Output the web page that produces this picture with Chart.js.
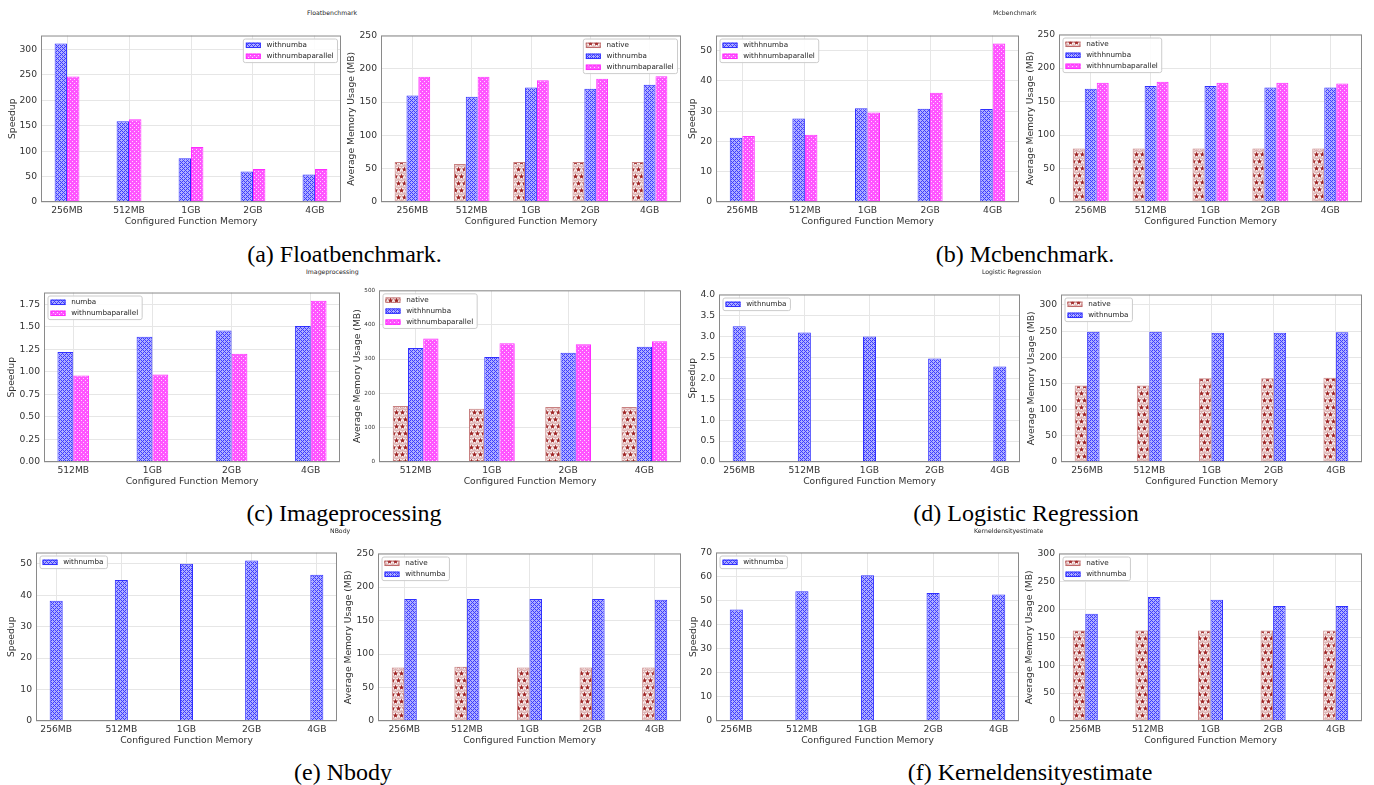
<!DOCTYPE html>
<html>
<head>
<meta charset="utf-8">
<script src="https://cdn.jsdelivr.net/npm/chart.js@4.4.1/dist/chart.umd.min.js"></script>
<style>
  html, body { margin: 0; padding: 0; background: #fff; }
  #fig { position: relative; width: 1374px; height: 785px; overflow: hidden; background: #fff; }
  .panel { position: absolute; }
  .panel canvas { display: block; }
  .suptitle { position: absolute; font-family: 'DejaVu Sans'; font-size: 6.2px; color: #222; white-space: nowrap; transform: translateY(-50%); line-height: 1; opacity: 0.99; }
  .caption { position: absolute; font-family: 'Liberation Serif'; font-size: 24px; color: #000; white-space: nowrap; transform: translate(-50%, -50%); line-height: 1; }
</style>
</head>
<body>
<div id="fig"></div>
<script>
// ---- categories ----
const memTiers = ['256MB', '512MB', '1GB', '2GB', '4GB'];
const imgTiers = ['512MB', '1GB', '2GB', '4GB'];

// ---- Floatbenchmark ----
const floatSpeedNumba    = [312, 159, 86, 60, 54];
const floatSpeedParallel = [247, 163, 108, 65, 65];
const floatMemNative     = [60, 57, 60, 60, 60];
const floatMemNumba      = [160, 158, 172, 170, 176];
const floatMemParallel   = [188, 188, 183, 185, 189];

// ---- Mcbenchmark ----
const mcSpeedNumba    = [21.2, 27.6, 31.0, 30.8, 30.7];
const mcSpeedParallel = [21.8, 22.2, 29.6, 36.1, 52.4];
const mcMemNative     = [80, 80, 80, 80, 80];
const mcMemNumba      = [169, 173, 173, 171, 171];
const mcMemParallel   = [178, 179.5, 178, 178, 177];

// ---- Imageprocessing ----
const imgSpeedNumba    = [1.22, 1.39, 1.46, 1.51];
const imgSpeedParallel = [0.96, 0.97, 1.20, 1.79];
const imgMemNative     = [163, 155, 160, 160];
const imgMemNumba      = [332, 306, 318, 336];
const imgMemParallel   = [360, 346, 343, 352];

// ---- Logistic Regression ----
const lrSpeedNumba = [3.24, 3.09, 3.00, 2.47, 2.28];
const lrMemNative  = [146, 146, 160, 160, 161];
const lrMemNumba   = [249, 249, 247, 247, 248];

// ---- NBody ----
const nbodySpeedNumba = [38.2, 44.8, 50.0, 51.0, 46.5];
const nbodyMemNative  = [80, 81, 80, 80, 80];
const nbodyMemNumba   = [182, 182, 182, 182, 181];

// ---- Kerneldensityestimate ----
const kdeSpeedNumba = [46.3, 53.9, 60.6, 53.2, 52.6];
const kdeMemNative  = [162, 162, 162, 162, 162];
const kdeMemNumba   = [192, 222, 217, 206, 206];

// ---- y tick values ----
const ticks0to300 = [0, 50, 100, 150, 200, 250, 300];
const ticks0to250 = [0, 50, 100, 150, 200, 250];
const ticks0to50  = [0, 10, 20, 30, 40, 50];
const ticks0to175 = [0, 0.25, 0.5, 0.75, 1, 1.25, 1.5, 1.75];
const ticks0to500 = [0, 100, 200, 300, 400, 500];
const ticks0to4   = [0, 0.5, 1, 1.5, 2, 2.5, 3, 3.5, 4];
const ticks0to70  = [0, 10, 20, 30, 40, 50, 60, 70];

// ---- hatch fills ----
function tile(w, h, draw) {
  const c = document.createElement('canvas');
  c.width = w; c.height = h;
  const g = c.getContext('2d');
  draw(g, w, h);
  return g.createPattern(c, 'repeat');
}
function star(g, cx, cy, r) {
  g.beginPath();
  for (let k = 0; k < 10; k++) {
    const rr = k % 2 === 0 ? r : r * 0.45;
    const a = -Math.PI / 2 + k * Math.PI / 5;
    const px = cx + rr * Math.cos(a), py = cy + rr * Math.sin(a);
    if (k === 0) g.moveTo(px, py); else g.lineTo(px, py);
  }
  g.closePath();
  g.fill();
}
// blue cross-hatch for the numba runs
const crossHatch = tile(4, 4, (g) => {
  g.fillStyle = '#aeaeff'; g.fillRect(0, 0, 4, 4);
  g.fillStyle = '#3c3cff';
  for (let y = 0; y < 4; y++) for (let x = 0; x < 4; x++) {
    if ((x + y) % 4 === 0 || (x - y + 4) % 4 === 0) g.fillRect(x, y, 1, 1);
  }
});
// magenta dotted fill for the parallel runs
const dotHatch = tile(4, 4, (g) => {
  g.fillStyle = '#ff55ff'; g.fillRect(0, 0, 4, 4);
  g.fillStyle = '#ffd6ff';
  g.fillRect(1, 1, 1, 1);
  g.fillRect(3, 3, 1, 1);
});
// star fill for the native runs
const starHatch = tile(6, 14, (g) => {
  g.fillStyle = '#dcb0b0'; g.fillRect(0, 0, 6, 14);
  const spots = [[1.5, 3.5], [4.5, 10.5], [-1.5, 10.5], [7.5, 3.5], [1.5, 17.5], [4.5, -3.5]];
  g.fillStyle = '#fbf3f3';
  spots.forEach(([x, y]) => { g.beginPath(); g.arc(x, y, 3.1, 0, Math.PI * 2); g.fill(); });
  g.fillStyle = '#9f2626';
  spots.forEach(([x, y]) => star(g, x, y, 2.9));
});
const seriesStyle = {
  native:   { fill: starHatch,  edge: 'rgba(170,60,60,0.65)' },
  numba:    { fill: crossHatch, edge: '#3030ff' },
  parallel: { fill: dotHatch,   edge: '#ff2bff' }
};

// ---- plugins: axes frame and boxed legend ----
const axesFrame = {
  id: 'axesFrame',
  afterDatasetsDraw(chart) {
    const { ctx, chartArea: a } = chart;
    ctx.save();
    ctx.strokeStyle = '#8a8a8a';
    ctx.lineWidth = 1;
    ctx.strokeRect(a.left + 0.5, a.top + 0.5, a.right - a.left - 1, a.bottom - a.top - 1);
    ctx.restore();
  }
};
const boxLegend = {
  id: 'boxLegend',
  afterDraw(chart, args, opts) {
    const { ctx, chartArea: a } = chart;
    const ds = chart.data.datasets;
    ctx.save();
    ctx.font = '7.2px "DejaVu Sans"';
    const textW = Math.max(...ds.map(d => ctx.measureText(d.label).width));
    const rowH = 11;
    const w = 3 + 15 + 5.7 + textW + 3.4;
    const h = 1.6 + ds.length * rowH;
    const x = opts.side === 'right' ? a.right - 4 - w : a.left + 3.5;
    const y = a.top + 3;
    ctx.beginPath();
    ctx.roundRect(x + 0.5, y + 0.5, w, h, 2);
    ctx.fillStyle = 'rgba(255,255,255,0.85)';
    ctx.fill();
    ctx.strokeStyle = '#cccccc';
    ctx.lineWidth = 1;
    ctx.stroke();
    ds.forEach((d, i) => {
      const cy = y + 0.8 + rowH * i + rowH / 2 + 0.5;
      ctx.fillStyle = d.backgroundColor;
      ctx.fillRect(x + 3, cy - 2.7, 15, 5.4);
      ctx.strokeStyle = d.borderColor;
      ctx.strokeRect(x + 3.5, cy - 2.2, 14, 4.4);
      ctx.fillStyle = '#222';
      ctx.textBaseline = 'middle';
      ctx.textAlign = 'left';
      ctx.fillText(d.label, x + 23.7, cy);
    });
    ctx.restore();
  }
};

// ---- panel definitions (plot rectangle in page pixels: left, top, right, bottom) ----
const SPEED = 'Speedup';
const MEM = 'Average Memory Usage (MB)';
const panels = [
  { rect: [41, 32, 341, 202], cats: memTiers, ymax: 327.6, yticks: ticks0to300, ydec: 0, ytitle: SPEED, gap: 28.6, side: 'right',
    series: [['withnumba', floatSpeedNumba, 'numba'], ['withnumbaparallel', floatSpeedParallel, 'parallel']] },
  { rect: [381, 32, 681, 202], cats: memTiers, ymax: 250, yticks: ticks0to250, ydec: 0, ytitle: MEM, gap: 29, side: 'right',
    series: [['native', floatMemNative, 'native'], ['withnumba', floatMemNumba, 'numba'], ['withnumbaparallel', floatMemParallel, 'parallel']] },
  { rect: [716, 32, 1019, 202], cats: memTiers, ymax: 55.0, yticks: ticks0to50, ydec: 0, ytitle: SPEED, gap: 23.4, side: 'left',
    series: [['withhnumba', mcSpeedNumba, 'numba'], ['withhnumbaparallel', mcSpeedParallel, 'parallel']] },
  { rect: [1059, 31, 1362, 202], cats: memTiers, ymax: 250, yticks: ticks0to250, ydec: 0, ytitle: MEM, gap: 28.3, side: 'left',
    series: [['native', mcMemNative, 'native'], ['withhnumba', mcMemNumba, 'numba'], ['withhnumbaparallel', mcMemParallel, 'parallel']] },

  { rect: [44, 289, 340, 462], cats: imgTiers, ymax: 1.88, yticks: ticks0to175, ydec: 2, ytitle: SPEED, gap: 32, side: 'left',
    series: [['numba', imgSpeedNumba, 'numba'], ['withnumbaparallel', imgSpeedParallel, 'parallel']] },
  { rect: [379, 289, 681, 462], cats: imgTiers, ymax: 500, yticks: ticks0to500, ydec: 0, ytitle: MEM, gap: 21.7, side: 'left', yFont: 5.6,
    series: [['native', imgMemNative, 'native'], ['withhnumba', imgMemNumba, 'numba'], ['withnumbaparallel', imgMemParallel, 'parallel']] },
  { rect: [719, 291, 1020, 462], cats: memTiers, ymax: 4, yticks: ticks0to4, ydec: 1, ytitle: SPEED, gap: 26, side: 'left',
    series: [['withnumba', lrSpeedNumba, 'numba']] },
  { rect: [1061, 291, 1362, 462], cats: memTiers, ymax: 320, yticks: ticks0to300, ydec: 0, ytitle: MEM, gap: 29.7, side: 'left',
    series: [['native', lrMemNative, 'native'], ['withnumba', lrMemNumba, 'numba']] },

  { rect: [36, 549, 337, 721], cats: memTiers, ymax: 53.55, yticks: ticks0to50, ydec: 0, ytitle: SPEED, gap: 24.4, side: 'left',
    series: [['withnumba', nbodySpeedNumba, 'numba']] },
  { rect: [378, 550, 681, 721], cats: memTiers, ymax: 250, yticks: ticks0to250, ydec: 0, ytitle: MEM, gap: 29.4, side: 'left',
    series: [['native', nbodyMemNative, 'native'], ['withnumba', nbodyMemNumba, 'numba']] },
  { rect: [716, 549, 1019, 721], cats: memTiers, ymax: 70, yticks: ticks0to70, ydec: 0, ytitle: SPEED, gap: 22.7, side: 'left',
    series: [['withnumba', kdeSpeedNumba, 'numba']] },
  { rect: [1059, 550, 1362, 721], cats: memTiers, ymax: 300, yticks: ticks0to300, ydec: 0, ytitle: MEM, gap: 29.3, side: 'left',
    series: [['native', kdeMemNative, 'native'], ['withnumba', kdeMemNumba, 'numba']] }
];

const suptitles = [
  ['Floatbenchmark', 307, 12.7], ['Mcbenchmark', 993, 12.7],
  ['Imageprocessing', 306, 271.7], ['Logistic Regression', 982, 271.7],
  ['NBody', 330, 530.7], ['Kerneldensityestimate', 974, 530.7]
];
const captions = [
  ['(a) Floatbenchmark.', 344.5, 254], ['(b) Mcbenchmark.', 1025, 254],
  ['(c) Imageprocessing', 344, 513], ['(d) Logistic Regression', 1026, 513],
  ['(e) Nbody', 343, 772], ['(f) Kerneldensityestimate', 1030, 772]
];

Chart.defaults.font.family = "'DejaVu Sans'";
const TXT = '#333333';
const GRID = '#e6e6e6';
const BAR_W = 0.2;   // bar width in category units
const PAD_L = 44, PAD_T = 6, PAD_R = 6, AX_H = 32, FS = 9.2;

const fig = document.getElementById('fig');

function buildPanel(p) {
  const [L, T, R, B] = p.rect;
  const wrap = document.createElement('div');
  wrap.className = 'panel';
  wrap.style.left = (L - PAD_L) + 'px';
  wrap.style.top = (T - PAD_T) + 'px';
  const cv = document.createElement('canvas');
  cv.width = (R - L) + PAD_L + PAD_R;
  cv.height = (B - T) + PAD_T + AX_H;
  wrap.appendChild(cv);
  fig.appendChild(wrap);

  const n = p.series.length;
  const nc = p.cats.length;
  const half = n * BAR_W / 2;
  const margin = 0.05 * (nc - 1 + n * BAR_W);

  new Chart(cv, {
    type: 'bar',
    data: {
      datasets: p.series.map(([label, vals, kind]) => ({
        label,
        data: vals.map((v, i) => ({ x: i, y: v })),
        backgroundColor: seriesStyle[kind].fill,
        borderColor: seriesStyle[kind].edge,
        borderWidth: 1,
        categoryPercentage: n * BAR_W,
        barPercentage: 1
      }))
    },
    options: {
      responsive: false,
      animation: false,
      events: [],
      layout: { padding: { left: 0, top: PAD_T, right: PAD_R, bottom: 0 } },
      plugins: { legend: { display: false }, tooltip: { enabled: false }, boxLegend: { side: p.side } },
      scales: {
        x: {
          type: 'linear',
          offset: false,
          min: -half - margin,
          max: nc - 1 + half + margin,
          afterBuildTicks(s) { s.ticks = p.cats.map((_, i) => ({ value: i })); },
          afterFit(s) { s.height = AX_H; },
          grid: { color: GRID, drawTicks: false, offset: false },
          border: { display: false },
          ticks: { autoSkip: false, maxRotation: 0, padding: 3, color: TXT, font: { size: FS }, callback: (v) => p.cats[v] },
          title: { display: true, text: 'Configured Function Memory', color: TXT, font: { size: FS, lineHeight: 1.2 }, padding: { top: 0, bottom: AX_H - FS * 0.6 - 19.4 } }
        },
        y: {
          type: 'linear',
          min: 0,
          max: p.ymax,
          afterBuildTicks(s) { s.ticks = p.yticks.map(v => ({ value: v })); },
          afterFit(s) { s.width = PAD_L; },
          grid: { color: GRID, drawTicks: false },
          border: { display: false },
          ticks: { padding: 4, color: TXT, font: { size: p.yFont || FS }, callback: (v) => Number(v).toFixed(p.ydec) },
          title: { display: true, text: p.ytitle, color: TXT, font: { size: FS, lineHeight: 1.2 }, padding: { top: PAD_L - FS * 0.6 - p.gap, bottom: 0 } }
        }
      }
    },
    plugins: [axesFrame, boxLegend]
  });
}

panels.forEach(buildPanel);

suptitles.forEach(([t, x, y]) => {
  const d = document.createElement('div');
  d.className = 'suptitle';
  d.textContent = t;
  d.style.left = x + 'px';
  d.style.top = y + 'px';
  fig.appendChild(d);
});
captions.forEach(([t, x, y]) => {
  const d = document.createElement('div');
  d.className = 'caption';
  d.textContent = t;
  d.style.left = x + 'px';
  d.style.top = y + 'px';
  fig.appendChild(d);
});
</script>
</body>
</html>
